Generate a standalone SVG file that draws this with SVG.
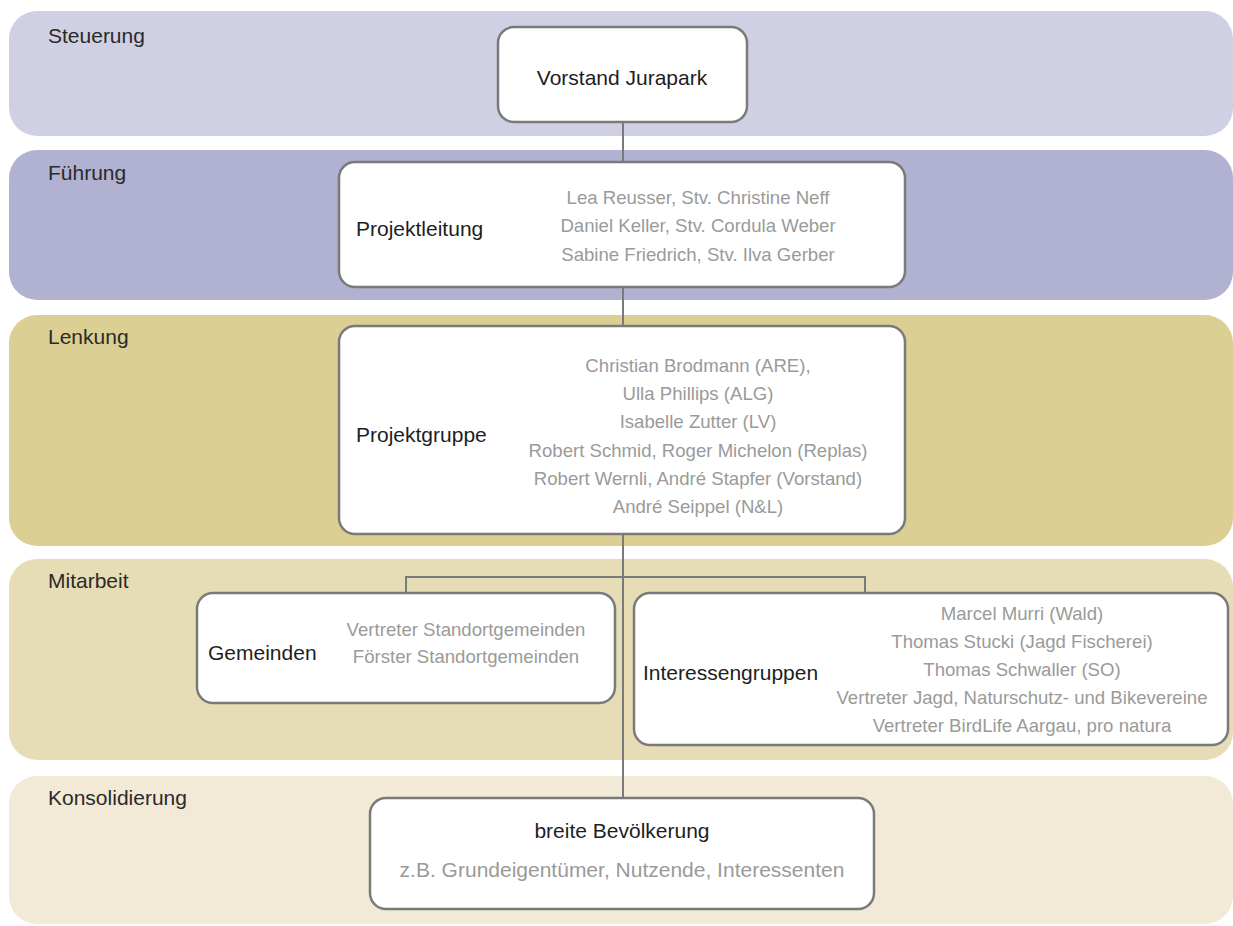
<svg xmlns="http://www.w3.org/2000/svg" width="1233" height="926" viewBox="0 0 1233 926">
<style>
.band{stroke:none}
.node{fill:#ffffff;stroke:#7a7a7a;stroke-width:2.5}
.conn{stroke:#7a7a7a;stroke-width:2;fill:none}
.bl{font-family:"Liberation Sans",Arial,sans-serif;font-size:21px;fill:#2a2a2a}
.lab{font-family:"Liberation Sans",Arial,sans-serif;font-size:21px;fill:#1e1e1e}
.nm{font-family:"Liberation Sans",Arial,sans-serif;font-size:18.6px;fill:#9a9a9a;text-anchor:middle}
.ctr{text-anchor:middle}
</style>
<rect width="1233" height="926" fill="#ffffff"/>
<g id="bands">
<g id="band-steuerung"><rect class="band" x="9" y="11" width="1224" height="125" rx="28" fill="#d0d0e4"/><text class="bl" x="48" y="43">Steuerung</text></g>
<g id="band-fuehrung"><rect class="band" x="9" y="150" width="1224" height="150" rx="28" fill="#b1b2d2"/><text class="bl" x="48" y="180">Führung</text></g>
<g id="band-lenkung"><rect class="band" x="9" y="315" width="1224" height="231" rx="28" fill="#dccf94"/><text class="bl" x="48" y="344">Lenkung</text></g>
<g id="band-mitarbeit"><rect class="band" x="9" y="559" width="1224" height="201" rx="28" fill="#e6dcb6"/><text class="bl" x="48" y="588">Mitarbeit</text></g>
<g id="band-konsolidierung"><rect class="band" x="9" y="776" width="1224" height="148" rx="28" fill="#f2e9d6"/><text class="bl" x="48" y="805">Konsolidierung</text></g>
</g>
<g id="connectors">
<line class="conn" x1="623" y1="122" x2="623" y2="162"/>
<line class="conn" x1="623" y1="287" x2="623" y2="326"/>
<line class="conn" x1="623" y1="534" x2="623" y2="798"/>
<polyline class="conn" points="406,593 406,577 865,577 865,593"/>
</g>
<g id="node-vorstand">
<rect class="node" x="498" y="27" width="249" height="95" rx="16"/>
<text class="lab ctr" x="622" y="85">Vorstand Jurapark</text>
</g>
<g id="node-projektleitung">
<rect class="node" x="339" y="162" width="566" height="125" rx="16"/>
<text class="lab" x="356" y="236">Projektleitung</text>
<text class="nm" x="698" y="204">Lea Reusser, Stv. Christine Neff</text>
<text class="nm" x="698" y="232">Daniel Keller, Stv. Cordula Weber</text>
<text class="nm" x="698" y="261">Sabine Friedrich, Stv. Ilva Gerber</text>
</g>
<g id="node-projektgruppe">
<rect class="node" x="339" y="326" width="566" height="208" rx="16"/>
<text class="lab" x="356" y="442">Projektgruppe</text>
<text class="nm" x="698" y="372">Christian Brodmann (ARE),</text>
<text class="nm" x="698" y="400">Ulla Phillips (ALG)</text>
<text class="nm" x="698" y="428">Isabelle Zutter (LV)</text>
<text class="nm" x="698" y="457">Robert Schmid, Roger Michelon (Replas)</text>
<text class="nm" x="698" y="485">Robert Wernli, André Stapfer (Vorstand)</text>
<text class="nm" x="698" y="513">André Seippel (N&amp;L)</text>
</g>
<g id="node-gemeinden">
<rect class="node" x="197" y="593" width="418" height="110" rx="16"/>
<text class="lab" x="208" y="660">Gemeinden</text>
<text class="nm" x="466" y="636">Vertreter Standortgemeinden</text>
<text class="nm" x="466" y="663">Förster Standortgemeinden</text>
</g>
<g id="node-interessengruppen">
<rect class="node" x="634" y="593" width="594" height="152" rx="16"/>
<text class="lab" x="643" y="680">Interessengruppen</text>
<text class="nm" x="1022" y="620">Marcel Murri (Wald)</text>
<text class="nm" x="1022" y="648">Thomas Stucki (Jagd Fischerei)</text>
<text class="nm" x="1022" y="676">Thomas Schwaller (SO)</text>
<text class="nm" x="1022" y="704">Vertreter Jagd, Naturschutz- und Bikevereine</text>
<text class="nm" x="1022" y="732">Vertreter BirdLife Aargau, pro natura</text>
</g>
<g id="node-bevoelkerung">
<rect class="node" x="370" y="798" width="504" height="111" rx="16"/>
<text class="lab ctr" x="622" y="838">breite Bevölkerung</text>
<text class="nm" x="622" y="877" style="font-size:21px">z.B. Grundeigentümer, Nutzende, Interessenten</text>
</g>
</svg>
